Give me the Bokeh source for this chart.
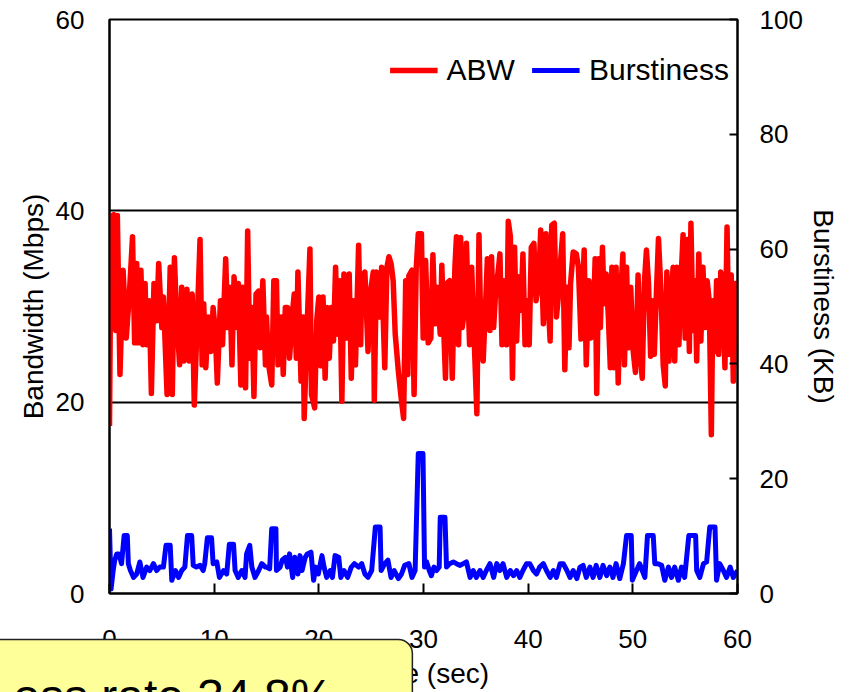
from bokeh.plotting import figure
from bokeh.models import Range1d, LinearAxis, Title, Legend, LegendItem, FixedTicker
from bokeh.embed import file_html
from bokeh.resources import INLINE

FONT = "Liberation Sans"

# ---------------- data ----------------
abw_t_1 = [0.0, 0.15, 0.4, 0.6, 0.75, 1.0, 1.3, 1.6, 1.9, 2.2, 2.4, 2.6, 2.75, 3.0, 3.2,
           3.4, 3.55, 3.8, 4.0, 4.25, 4.5, 4.7, 5.0, 5.15, 5.5, 5.8, 6.0, 6.2, 6.4, 6.7,
           6.9, 7.1, 7.4, 7.6, 7.9, 8.1, 8.3, 8.65, 8.85, 9.0, 9.2, 9.45, 9.7, 9.9, 10.1,
           10.3, 10.6, 10.8, 11.1, 11.3, 11.5, 11.7, 11.9, 12.2, 12.3, 12.55, 12.7, 13.0, 13.2, 13.4,
           13.6, 13.8, 14.0, 14.25, 14.4, 14.65, 14.9]
abw_v_1 = [17.5, 39.4, 39.6, 27.5, 39.5, 22.9, 33.8, 26.7, 31.3, 37.3, 26.2, 34.5, 26.2, 33.8, 26.0,
           32.4, 26.0, 30.6, 20.9, 32.4, 28.5, 34.5, 27.8, 31.0, 20.8, 34.1, 20.8, 35.1, 29.2, 23.9,
           32.0, 24.3, 31.8, 24.3, 31.3, 19.7, 26.0, 37.0, 23.9, 30.3, 23.6, 28.9, 25.3, 29.9, 27.5,
           22.0, 30.6, 26.0, 35.0, 27.8, 32.0, 23.9, 33.1, 27.8, 32.4, 21.8, 32.0, 21.5, 37.9, 24.6,
           29.9, 20.6, 31.3, 31.6, 25.7, 32.7, 23.9]
abw_t_2 = [15.0, 15.2, 15.5, 15.7, 15.95, 16.1, 16.4, 16.6, 16.8, 17.0, 17.2, 17.5, 17.65, 17.85, 18.0,
           18.3, 18.5, 18.6, 18.9, 19.15, 19.3, 19.6, 19.8, 20.0, 20.2, 20.4, 20.6, 20.8, 21.0, 21.2,
           21.4, 21.6, 21.8, 22.0, 22.2, 22.4, 22.7, 22.9, 23.1, 23.3, 23.5, 23.8, 24.0, 24.1, 24.4,
           24.7, 24.9, 25.2, 25.3, 25.5, 25.8, 26.0, 26.3, 26.5, 26.7, 26.9, 27.1, 27.3, 27.6, 27.9,
           28.1, 28.3, 28.5, 28.6, 28.9, 29.1, 29.3, 29.5, 29.8, 29.97]
abw_v_2 = [28.9, 23.9, 21.8, 32.7, 32.7, 23.9, 28.9, 22.9, 29.9, 29.9, 24.6, 29.6, 31.3, 24.6, 33.6,
           22.2, 28.9, 18.3, 28.5, 36.0, 20.8, 19.4, 28.5, 31.0, 23.8, 31.0, 22.5, 29.9, 24.6, 29.9,
           26.4, 34.1, 27.1, 32.7, 20.1, 33.4, 26.7, 33.4, 22.5, 30.6, 23.9, 36.4, 26.0, 33.1, 33.6,
           25.3, 31.3, 33.6, 20.2, 33.6, 28.9, 34.1, 23.6, 34.1, 35.2, 34.5, 32.7, 27.1, 23.2, 20.1,
           18.3, 32.7, 22.9, 33.2, 33.8, 20.8, 33.9, 37.6, 37.6, 26.7]
abw_t_3 = [30.2, 30.45, 30.7, 30.9, 31.1, 31.3, 31.6, 31.75, 31.95, 32.1, 32.3, 32.5, 32.75, 33.0, 33.15,
           33.35, 33.55, 33.7, 33.95, 34.1, 34.4, 34.6, 34.8, 35.1, 35.3, 35.5, 35.7, 36.0, 36.1, 36.35,
           36.5, 36.7, 36.9, 37.15, 37.3, 37.5, 37.7, 37.95, 38.1, 38.3, 38.5, 38.7, 38.9, 39.1, 39.3,
           39.5, 39.7, 39.9, 40.1, 40.3, 40.55, 40.75, 41.0, 41.2, 41.45, 41.7, 41.9, 42.1, 42.25, 42.5,
           42.7, 42.85, 43.05, 43.3, 43.5, 43.7, 43.9, 44.05, 44.3, 44.6, 44.8]
abw_v_3 = [34.8, 26.2, 26.7, 35.4, 28.2, 32.0, 27.1, 34.3, 27.1, 22.5, 32.5, 32.7, 22.5, 34.1, 37.3,
           26.0, 37.2, 27.8, 29.9, 36.6, 26.0, 34.1, 27.8, 18.8, 37.5, 26.0, 24.3, 32.0, 35.0, 27.5,
           35.2, 27.8, 31.7, 33.8, 35.5, 26.0, 32.7, 26.0, 38.9, 37.3, 22.5, 36.2, 26.4, 33.1, 29.6,
           35.5, 26.0, 30.6, 26.0, 36.2, 36.6, 30.6, 32.4, 38.0, 28.2, 37.6, 30.6, 26.4, 38.5, 38.7,
           28.9, 30.6, 34.1, 37.6, 23.4, 32.0, 25.7, 32.4, 35.7, 35.5, 34.1]
abw_t_4 = [45.05, 45.35, 45.55, 45.8, 46.0, 46.2, 46.4, 46.55, 46.75, 46.9, 47.1, 47.25, 47.45, 47.65, 47.85,
           48.0, 48.2, 48.4, 48.6, 48.8, 49.05, 49.2, 49.4, 49.6, 49.8, 50.0, 50.25, 50.5, 50.7, 50.9,
           51.1, 51.3, 51.5, 51.7, 51.85, 52.05, 52.25, 52.45, 52.7, 52.9, 53.1, 53.25, 53.45, 53.65, 53.85,
           54.0, 54.2, 54.4, 54.6, 54.8, 55.0, 55.2, 55.4, 55.55, 55.75, 55.95, 56.1, 56.3, 56.5, 56.7,
           56.9, 57.1, 57.3, 57.5, 57.65, 57.85, 58.0, 58.2, 58.4, 58.6, 58.8, 59.0, 59.2, 59.4, 59.6,
           59.8, 60.0]
abw_v_4 = [26.6, 35.9, 23.9, 32.7, 26.7, 27.8, 35.0, 20.9, 35.0, 27.8, 36.2, 30.3, 33.4, 29.2, 23.6,
           34.1, 23.6, 34.1, 22.0, 30.6, 35.5, 23.9, 34.1, 25.7, 32.0, 25.7, 23.1, 33.3, 25.0, 22.5,
           32.4, 35.9, 32.4, 24.8, 30.6, 25.0, 31.3, 37.1, 31.3, 23.9, 21.7, 33.6, 24.3, 30.6, 34.1,
           24.3, 34.1, 26.0, 32.7, 37.5, 26.7, 37.0, 25.3, 38.7, 27.5, 32.7, 24.3, 35.5, 26.4, 34.1,
           27.8, 32.7, 30.6, 16.6, 30.6, 25.3, 32.7, 25.0, 33.6, 31.0, 23.6, 38.3, 25.0, 33.3, 22.2,
           32.4, 28.2]

burst_t_1 = [0.0, 0.15, 0.35, 0.5, 0.7, 0.9, 1.15, 1.4, 1.7, 1.8, 2.0, 2.3, 2.6, 2.9, 3.2,
             3.55, 3.85, 4.2, 4.5, 4.8, 5.15, 5.4, 5.8, 5.95, 6.3, 6.6, 6.9, 7.2, 7.45, 7.85,
             8.0, 8.3, 8.65, 8.95, 9.1, 9.35, 9.75, 9.9, 10.25, 10.5, 10.9, 11.2, 11.45, 11.85, 12.0,
             12.3, 12.65, 12.95, 13.1, 13.4, 13.6, 13.9, 14.25, 14.55, 14.9]
burst_v_1 = [11.3, 0.8, 4.0, 5.8, 6.9, 6.9, 5.2, 10.1, 10.1, 5.2, 4.0, 2.8, 3.4, 5.5, 2.8,
             4.6, 4.0, 5.2, 4.0, 4.6, 4.6, 8.4, 8.4, 2.3, 4.0, 2.8, 4.0, 4.6, 10.1, 10.1,
             4.9, 4.6, 4.9, 4.0, 5.2, 9.7, 9.7, 5.2, 5.5, 2.8, 4.0, 3.4, 8.6, 8.6, 4.0,
             2.8, 4.0, 2.8, 6.9, 8.4, 4.6, 2.8, 4.0, 5.2, 4.6]
burst_t_2 = [15.0, 15.3, 15.5, 15.9, 15.95, 16.3, 16.5, 16.8, 17.0, 17.2, 17.5, 17.7, 18.0, 18.2, 18.4,
             18.7, 18.9, 19.25, 19.5, 19.7, 19.95, 20.3, 20.5, 20.75, 21.1, 21.3, 21.55, 21.9, 22.1, 22.4,
             22.75, 23.1, 23.4, 23.8, 24.1, 24.4, 24.7, 25.05, 25.4, 25.85, 25.95, 26.3, 26.6, 26.9, 27.2,
             27.6, 27.9, 28.2, 28.6, 28.9, 29.2, 29.5, 29.95]
burst_v_2 = [4.6, 4.3, 11.3, 11.3, 4.0, 4.6, 5.8, 6.3, 4.6, 6.9, 2.8, 6.3, 3.4, 6.6, 4.0,
             6.3, 6.9, 7.2, 2.3, 4.6, 3.4, 6.6, 4.6, 2.8, 4.0, 2.8, 6.6, 6.3, 2.8, 4.0,
             2.8, 4.6, 5.2, 4.6, 5.2, 3.4, 2.8, 4.0, 11.6, 11.6, 4.0, 5.2, 5.8, 2.8, 4.0,
             2.6, 3.4, 4.9, 5.2, 2.8, 4.0, 24.4, 24.4]
burst_t_3 = [30.1, 30.3, 30.55, 30.75, 31.0, 31.25, 31.5, 31.6, 32.05, 32.2, 32.5, 32.85, 33.15, 33.5, 33.8,
             34.1, 34.45, 34.75, 35.05, 35.4, 35.7, 36.0, 36.35, 36.7, 37.0, 37.3, 37.6, 37.95, 38.3, 38.6,
             38.9, 39.2, 39.5, 39.85, 40.15, 40.5, 40.8, 41.1, 41.45, 41.75, 42.1, 42.4, 42.7, 43.05, 43.35,
             43.7, 44.0, 44.3, 44.65, 44.95]
burst_v_3 = [4.6, 5.5, 4.0, 3.1, 4.6, 4.0, 4.6, 13.3, 13.3, 4.6, 5.2, 5.5, 5.2, 4.9, 5.2,
             5.5, 2.8, 4.0, 2.8, 4.0, 2.8, 4.0, 5.2, 2.8, 5.2, 4.0, 5.2, 2.8, 4.0, 3.1,
             4.0, 2.8, 4.0, 5.2, 5.2, 4.0, 3.4, 4.6, 5.2, 4.0, 2.8, 4.0, 2.8, 5.2, 5.2,
             4.0, 2.8, 4.0, 2.6, 4.6]
burst_t_4 = [45.25, 45.55, 45.9, 46.2, 46.5, 46.85, 47.15, 47.5, 47.8, 48.1, 48.4, 48.75, 49.1, 49.4, 49.85,
             49.95, 50.35, 50.65, 51.15, 51.4, 51.95, 52.1, 52.4, 52.75, 53.05, 53.4, 53.7, 54.0, 54.35, 54.65,
             54.95, 55.35, 56.0, 56.1, 56.4, 56.75, 57.05, 57.35, 57.85, 58.0, 58.3, 58.65, 58.95, 59.3, 59.6,
             60.0]
burst_v_4 = [4.9, 2.8, 4.6, 2.8, 4.9, 2.8, 4.9, 3.1, 4.6, 2.8, 5.2, 2.6, 5.2, 10.1, 10.1,
             2.3, 4.0, 5.2, 2.8, 10.1, 10.1, 5.2, 5.2, 4.9, 2.3, 4.6, 2.8, 4.6, 2.3, 4.6,
             2.8, 10.1, 10.1, 4.0, 2.8, 5.2, 5.5, 11.6, 11.6, 2.3, 5.2, 4.0, 2.8, 4.6, 2.8,
             4.0]

abw_t = abw_t_1 + abw_t_2 + abw_t_3 + abw_t_4
abw = abw_v_1 + abw_v_2 + abw_v_3 + abw_v_4
burst_t = burst_t_1 + burst_t_2 + burst_t_3 + burst_t_4
burst = burst_v_1 + burst_v_2 + burst_v_3 + burst_v_4

x_ticks = [0, 10, 20, 30, 40, 50, 60]
bw_ticks = [0, 20, 40, 60]
burst_ticks = [0, 20, 40, 60, 80, 100]
grid_levels = [20, 40]
series_names = ["ABW", "Burstiness"]
note_text = "Loss rate 34.8%"

# ---------------- figure ----------------
p = figure(width=856, height=692, output_backend="svg", toolbar_location=None,
           x_range=Range1d(0, 60), y_range=Range1d(0, 60),
           min_border_left=109, min_border_right=119, min_border_top=19, min_border_bottom=99,
           background_fill_color="white", border_fill_color="white")
p.extra_y_ranges = {"burst": Range1d(0, 100)}

p.outline_line_color = "black"
p.outline_line_width = 2
p.outline_line_alpha = 1

p.xgrid.visible = False
p.ygrid.ticker = FixedTicker(ticks=grid_levels)
p.ygrid.grid_line_color = "black"
p.ygrid.grid_line_width = 2

xa = p.xaxis[0]
xa.ticker = FixedTicker(ticks=x_ticks)
xa.axis_label = "Time (sec)"
xa.major_tick_in = 10
xa.major_tick_out = 0
xa.major_label_standoff = 36
xa.axis_label_standoff = 7

ya = p.yaxis[0]
ya.ticker = FixedTicker(ticks=bw_ticks)
ya.axis_label = "Bandwidth (Mbps)"
ya.major_tick_in = 0
ya.major_tick_out = 0
ya.major_label_standoff = 25
ya.axis_label_standoff = 4

ra = LinearAxis(y_range_name="burst", ticker=FixedTicker(ticks=burst_ticks),
                axis_label="Burstiness (KB)")
ra.major_tick_in = 8
ra.major_tick_out = 0
ra.major_label_standoff = 22
ra.axis_label_standoff = 2
p.add_layout(ra, "right")

for ax in [xa, ya, ra]:
    ax.axis_line_color = "black"
    ax.axis_line_width = 2
    ax.major_tick_line_color = "black"
    ax.major_tick_line_width = 2
    ax.minor_tick_in = 0
    ax.minor_tick_out = 0
    ax.major_label_text_font = FONT
    ax.major_label_text_font_size = "26px"
    ax.major_label_text_color = "black"
    ax.axis_label_text_font = FONT
    ax.axis_label_text_font_size = "28px"
    ax.axis_label_text_font_style = "normal"
    ax.axis_label_text_color = "black"

r1 = p.line(abw_t, abw, line_color="#FF0000", line_width=5.5, line_join="round")
r2 = p.line(burst_t, burst, line_color="#0000FF", line_width=5, line_join="round",
            y_range_name="burst")

legend = Legend(items=[LegendItem(label=series_names[0], renderers=[r1]),
                       LegendItem(label=series_names[1], renderers=[r2])],
                orientation="horizontal", location="top_right",
                border_line_color=None, background_fill_alpha=0,
                label_text_font=FONT, label_text_font_size="30px", label_text_color="black",
                glyph_width=48, glyph_height=86, label_height=86,
                spacing=17, label_standoff=9, padding=0, margin=8)
p.add_layout(legend)

# yellow call-out below the plot: a Title in the "below" panel (not clipped to the
# frame); the negative standoff pulls it up over the axis without taking layout room
note = Title(text=note_text, align="left", vertical_align="top", offset=-143, standoff=-104,
             text_font=FONT, text_font_size="48px", text_font_style="normal",
             text_color="black", background_fill_color="#FFFF99",
             border_line_color="#222222", border_line_width=1.5, border_radius=14,
             padding=dict(left=20, right=79, top=30, bottom=0))
p.add_layout(note, "below")

open("out.html", "w").write(file_html(p, INLINE))
